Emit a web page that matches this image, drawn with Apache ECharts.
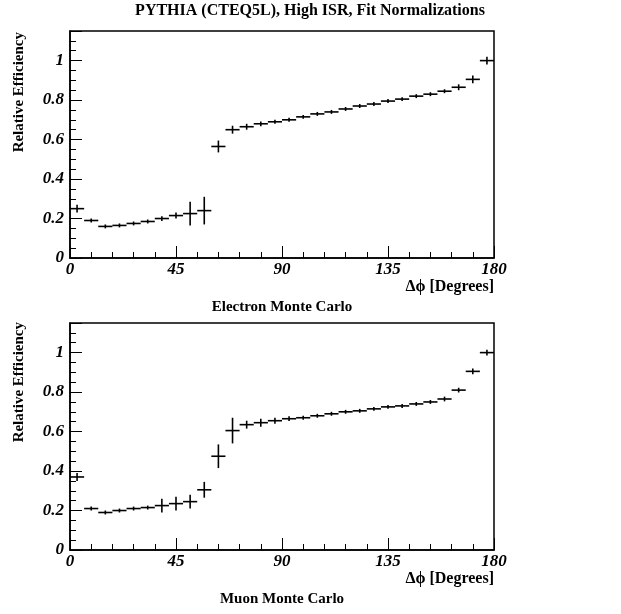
<!DOCTYPE html>
<html><head><meta charset="utf-8">
<script src="https://cdn.jsdelivr.net/npm/echarts@6/dist/echarts.min.js"></script>
<style>body{margin:0;background:#fff}#c{width:621px;height:614px}</style></head>
<body><div id="c"></div>
<script>
const binCenters=[3,9,15,21,27,33,39,45,51,57,63,69,75,81,87,93,99,105,111,117,123,129,135,141,147,153,159,165,171,177];
const binHalfWidth=3;
const electronEff=[0.25,0.19,0.16,0.165,0.175,0.185,0.20,0.215,0.225,0.24,0.565,0.65,0.665,0.68,0.69,0.70,0.715,0.73,0.74,0.755,0.77,0.78,0.795,0.805,0.82,0.83,0.845,0.865,0.905,1.0];
const electronErr=[0.02,0.01,0.01,0.01,0.01,0.01,0.012,0.015,0.06,0.07,0.03,0.02,0.015,0.012,0.01,0.01,0.01,0.01,0.01,0.01,0.01,0.01,0.01,0.01,0.01,0.01,0.01,0.015,0.02,0.02];
const muonEff=[0.37,0.21,0.19,0.20,0.21,0.215,0.225,0.235,0.245,0.305,0.475,0.605,0.635,0.645,0.655,0.665,0.67,0.68,0.69,0.70,0.705,0.715,0.725,0.73,0.74,0.75,0.765,0.81,0.905,1.0];
const muonErr=[0.02,0.01,0.01,0.01,0.01,0.01,0.035,0.035,0.035,0.04,0.06,0.065,0.02,0.02,0.015,0.012,0.01,0.01,0.01,0.01,0.01,0.01,0.01,0.01,0.01,0.01,0.012,0.012,0.015,0.015];

const F='"Liberation Serif", serif';
const chart=echarts.init(document.getElementById('c'));
function rows(v,e){return binCenters.map((x,i)=>[x,v[i],e[i]]);}
function render(p,api){
  const x=api.value(0),y=api.value(1),e=api.value(2);
  const a=api.coord([x-binHalfWidth,y]),b=api.coord([x+binHalfWidth,y]);
  const c=api.coord([x,y-e]),d=api.coord([x,y+e]);
  const st={stroke:'#000',lineWidth:1.6};
  return {type:'group',children:[
    {type:'line',shape:{x1:a[0],y1:a[1],x2:b[0],y2:b[1]},style:st},
    {type:'line',shape:{x1:c[0],y1:c[1],x2:d[0],y2:d[1]},style:st}]};
}
const grids=[{left:70,width:424,top:31,height:227},{left:70,width:424,top:323,height:227}];
function xa(i){return {gridIndex:i,type:'value',min:0,max:180,interval:45,
  axisLine:{show:true,onZero:false,lineStyle:{color:'#000',width:1.5}},
  axisTick:{inside:true,length:12,lineStyle:{color:'#000'}},
  minorTick:{show:true,splitNumber:5,length:6,lineStyle:{color:'#000'}},
  splitLine:{show:false},
  axisLabel:{color:'#000',fontFamily:F,fontWeight:'bold',fontStyle:'italic',fontSize:17,margin:3,
    formatter:v=>String(v)}};}
function ya(i){return {gridIndex:i,type:'value',min:0,max:1.15,interval:0.2,
  axisLine:{show:true,lineStyle:{color:'#000',width:1.5}},
  axisTick:{inside:true,length:12,lineStyle:{color:'#000'}},
  minorTick:{show:true,splitNumber:4,length:6,lineStyle:{color:'#000'}},
  splitLine:{show:false},
  axisLabel:{color:'#000',fontFamily:F,fontWeight:'bold',fontStyle:'italic',fontSize:17,margin:6,
    formatter:v=>v>1.01?'':String(+v.toFixed(1))}};}
chart.setOption({
  animation:false,
  grid:grids.map(g=>Object.assign({show:true,borderColor:'#000',borderWidth:1.5,backgroundColor:'transparent',outerBoundsMode:'none',containLabel:false},g)),
  xAxis:[xa(0),xa(1)],
  yAxis:[ya(0),ya(1)],
  graphic:[
    {type:'text',x:310,y:3,style:{text:'PYTHIA (CTEQ5L), High ISR, Fit Normalizations',font:`bold 16px ${F}`,fill:'#000',align:'center'}},
    {type:'text',x:494,y:279,style:{text:'Δϕ [Degrees]',font:`bold 16px ${F}`,fill:'#000',align:'right'}},
    {type:'text',x:282,y:300,style:{text:'Electron Monte Carlo',font:`bold 15px ${F}`,fill:'#000',align:'center'}},
    {type:'text',x:494,y:571,style:{text:'Δϕ [Degrees]',font:`bold 16px ${F}`,fill:'#000',align:'right'}},
    {type:'text',x:282,y:592,style:{text:'Muon Monte Carlo',font:`bold 15px ${F}`,fill:'#000',align:'center'}},
    {type:'text',x:12,y:32,rotation:Math.PI/2,style:{text:'Relative Efficiency',font:`bold 15px ${F}`,fill:'#000',align:'right',verticalAlign:'top'}},
    {type:'text',x:12,y:322,rotation:Math.PI/2,style:{text:'Relative Efficiency',font:`bold 15px ${F}`,fill:'#000',align:'right',verticalAlign:'top'}}
  ],
  series:[
    {type:'custom',xAxisIndex:0,yAxisIndex:0,renderItem:render,data:rows(electronEff,electronErr),clip:false},
    {type:'custom',xAxisIndex:1,yAxisIndex:1,renderItem:render,data:rows(muonEff,muonErr),clip:false}
  ]
});
</script></body></html>
